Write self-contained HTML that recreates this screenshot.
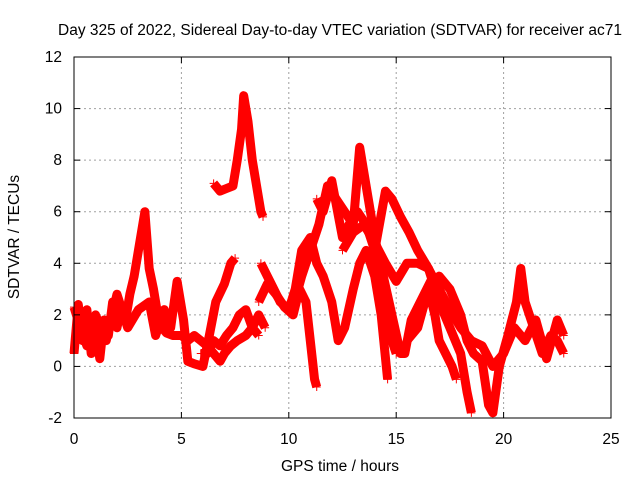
<!DOCTYPE html>
<html><head><meta charset="utf-8"><style>
body{margin:0;background:#fff}
svg{font-family:"Liberation Sans",sans-serif;font-size:15.5px}
</style></head><body>
<svg width="640" height="480">
<rect width="640" height="480" fill="#fff"/>
<g id="grid"></g>
<g id="series"></g>
<rect x="74" y="57" width="537" height="361" fill="none" stroke="#000"/>
<g id="ticks"></g>
<text x="340" y="35" text-anchor="middle">Day 325 of 2022, Sidereal Day-to-day VTEC variation (SDTVAR) for receiver ac71</text>
<text x="340" y="471" text-anchor="middle">GPS time / hours</text>
<text x="19" y="237" text-anchor="middle" transform="rotate(-90 19 237)">SDTVAR / TECUs</text>
</svg>
<script>
const xTicks=[0,5,10,15,20,25];
const yTicks=[-2,0,2,4,6,8,10,12];
const trackA=[[0,0.5],[0.2,2.4],[0.4,1],[0.6,2.2],[0.8,0.5],[1,1.5],[1.2,0.3],[1.4,1.8],[1.6,1.2],[1.8,2.5],[2,1.5],[2.2,2.3],[2.4,1.8],[2.6,2.8],[2.8,3.5],[3,4.5],[3.2,5.5],[3.3,6],[3.5,3.8],[3.7,3],[3.9,2],[4.1,1.5],[4.3,1.3],[4.6,1.2],[5,1.2],[5.3,1],[5.6,1.2],[5.9,1],[6.2,0.8],[6.5,0.5],[6.8,0.2],[7,0.5],[7.3,0.8],[7.6,1],[8,1.2],[8.3,1.5],[8.6,2],[8.9,1.5]];
const trackB=[[0,2.3],[0.3,1.5],[0.6,0.8],[1,2],[1.5,1],[2,2.8],[2.5,1.5],[3,2.2],[3.5,2.5],[3.8,1.2],[4.2,2.2],[4.5,1.5],[4.8,3.3],[5.1,1.8],[5.3,0.2],[5.6,0.1],[6,0],[6.3,1.2],[6.6,2.5],[7,3.2],[7.3,4],[7.5,4.2]];
const trackC=[[5.9,0.5],[6.2,0.5],[6.5,1],[6.8,0.8],[7.1,1.2],[7.4,1.5],[7.7,2],[8,2.2],[8.3,1.5],[8.6,1.2]];
const trackD=[[6.5,7.1],[6.8,6.8],[7.1,6.9],[7.4,7],[7.6,8],[7.8,9.2],[7.9,10.5],[8.1,9.5],[8.3,8],[8.5,7],[8.7,6],[8.8,5.8]];
const trackE=[[8.7,4],[9,3.5],[9.3,3],[9.6,2.5],[10,2.2],[10.3,3],[10.6,4.5],[11,5],[11.3,4],[11.6,3.5],[12,2.5],[12.3,1],[12.6,1.5],[13,3],[13.3,4],[13.6,4.5],[14,3.5],[14.3,2],[14.6,-0.5]];
const trackF=[[8.6,2.5],[9,3.2],[9.4,2.8],[9.8,2.3],[10.2,2],[10.5,3],[10.8,2.5],[11,1],[11.2,-0.5],[11.3,-0.8]];
const trackG=[[10.2,2.3],[10.6,3.5],[11,4.5],[11.4,5.5],[11.8,7],[12.2,6.5],[12.6,6],[13,5.5],[13.3,8.5],[13.6,7],[14,5],[14.4,3.5],[14.8,2],[15.2,0.5],[15.4,0.5],[15.7,1.8],[16,2.3],[16.3,2.8],[16.6,3.3],[17,3.5],[17.5,3],[18,2],[18.3,1],[18.6,0.5],[19,0.2],[19.3,-1.5],[19.5,-1.8],[19.8,0],[20.2,1.2],[20.6,2.5],[20.8,3.8],[21,2.5],[21.4,1.5],[21.8,0.5],[22.2,1.2],[22.5,1],[22.8,0.5]];
const trackH=[[11.3,6.5],[11.6,6],[12,7.2],[12.5,5],[12.8,5.5],[13.2,6],[13.6,5.5],[14,4.5],[14.5,6.8],[14.8,6.5],[15.2,5.8],[15.6,5.2],[16,4.5],[16.5,3.8],[17,2.5],[17.5,1.5],[18,0.5],[18.3,-1],[18.5,-1.8]];
const trackI=[[12.5,4.5],[13,5.2],[13.5,5.5],[14,4.8],[14.5,4],[15,3.3],[15.5,4],[16,4],[16.5,3.8],[17,3],[17.5,2.2],[18,1.5],[18.5,1],[19,0.8],[19.5,0],[20,0.5],[20.5,1.5],[21,1],[21.5,1.8],[22,0.3],[22.5,1.8],[22.8,1.2]];
const trackJ=[[15.5,1],[16,1.5],[16.5,3],[16.8,2],[17,1],[17.3,0.5],[17.6,0],[17.8,-0.5]];
const trackK=[[14,4.5],[14.5,3],[14.8,1],[15,0.5]];
const tracks=[trackA,trackB,trackC,trackD,trackE,trackF,trackG,trackH,trackI,trackJ,trackK];
const X=v=>74+v*537/25, Y=v=>418-(v+2)*361/14;
const NS="http://www.w3.org/2000/svg";
const grid=document.getElementById('grid'),ticks=document.getElementById('ticks'),ser=document.getElementById('series');
function mk(t,a,p){const e=document.createElementNS(NS,t);for(const k in a)e.setAttribute(k,a[k]);p.appendChild(e);return e;}
xTicks.forEach(t=>{
 if(t>0&&t<25){const g=mk('line',{x1:X(t),x2:X(t),y1:57,y2:418,stroke:'#a0a0a0','stroke-dasharray':'2,3'},grid);
 
 }
 const l=mk('text',{x:X(t),y:444,'text-anchor':'middle'},ticks);l.textContent=t;
 
 
 mk('line',{x1:X(t),x2:X(t),y1:418,y2:412,stroke:'#000'},ticks);
 mk('line',{x1:X(t),x2:X(t),y1:57,y2:63,stroke:'#000'},ticks);
});
yTicks.forEach(t=>{
 if(t>-2&&t<12){const g=mk('line',{x1:74,x2:611,y1:Y(t),y2:Y(t),stroke:'#a0a0a0','stroke-dasharray':'2,3'},grid);
 
 }
 const l=mk('text',{x:62,y:Y(t)+5,'text-anchor':'end'},ticks);l.textContent=t;
 
 
 mk('line',{x1:74,x2:80,y1:Y(t),y2:Y(t),stroke:'#000'},ticks);
 mk('line',{x1:611,x2:605,y1:Y(t),y2:Y(t),stroke:'#000'},ticks);
});
tracks.forEach((tr,i)=>{
 const p=mk('polyline',{points:tr.map(d=>X(d[0])+','+Y(d[1])).join(' '),fill:'none',stroke:'#f00','stroke-width':9,'stroke-linejoin':'round'},ser);
 
 
 tr.forEach(d=>{const m=mk('path',{d:`M${X(d[0])-4},${Y(d[1])}h8M${X(d[0])},${Y(d[1])-4}v8`,stroke:'#f00','stroke-width':1},ser);
  
  });
});
</script>
</body></html>
